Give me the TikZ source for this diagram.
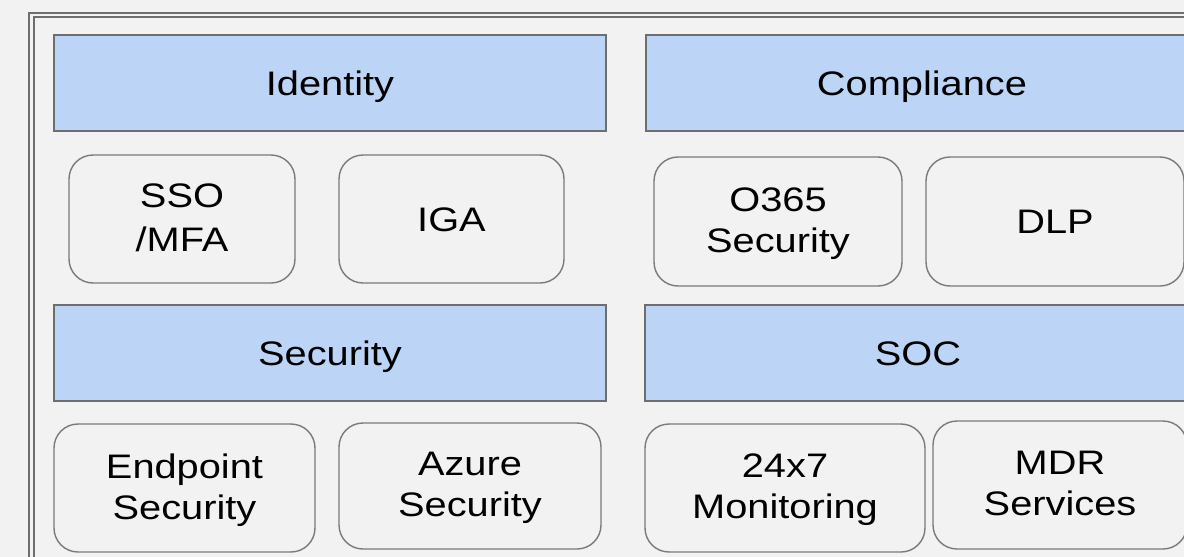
\documentclass[tikz,border=0pt]{standalone}
\usepackage{fontspec}
\setmainfont[FakeStretch=1.17]{Liberation Sans}
\definecolor{bg}{HTML}{F2F2F2}
\definecolor{hdr}{HTML}{BCD4F6}
\definecolor{edge}{HTML}{6E6E6E}
\definecolor{redge}{HTML}{7A7A7A}
\begin{document}
\begin{tikzpicture}[x=1pt,y=-1pt,
  hdrbox/.style={draw=edge,line width=1.8pt,fill=hdr,inner sep=0pt,outer sep=0pt,
    minimum width=552pt,minimum height=96pt,text height=24.4pt,text depth=0pt,
    font=\fontsize{34}{41}\selectfont},
  itembox/.style={draw=redge,line width=1.4pt,fill=bg,rounded corners=24pt,inner sep=0pt,outer sep=0pt,
    align=center,minimum height=128pt,font=\fontsize{34}{41}\selectfont},
  oneline/.style={text height=24.4pt,text depth=0pt},
  twoline/.style={text depth=3pt},
  frame/.style={draw=edge,line width=1.6pt}]
\fill[bg] (0,0) rectangle (1184,557);
\useasboundingbox (0,0) rectangle (1184,557);
\begin{scope}
\clip (0,0) rectangle (1184,557);
\coordinate (fo1) at (29,600);
\coordinate (fo2) at (1250,13);
\coordinate (fi1) at (34,600);
\coordinate (fi2) at (1250,17);
\draw[frame] (fo1) |- (fo2);
\draw[frame] (fi1) |- (fi2);
\node[hdrbox] (identity) at (330,83) {Identity};
\node[hdrbox] (compliance) at (922,83) {Compliance};
\node[hdrbox] (security) at (330,353) {Security};
\node[hdrbox,minimum width=546pt] (soc) at (918,353) {SOC};
\node[itembox,twoline,minimum width=226pt,font=\fontsize{34}{44}\selectfont] (sso) at (182,219) {SSO\\/MFA};
\node[itembox,oneline,minimum width=225pt] (iga) at (451.5,219) {IGA};
\node[itembox,twoline,minimum width=248pt,minimum height=129pt] (o365) at (778,221.5) {O365\\Security};
\node[itembox,oneline,minimum width=258pt,minimum height=129pt] (dlp) at (1055,221.5) {DLP};
\node[itembox,twoline,minimum width=261pt] (endpoint) at (184.5,488) {Endpoint\\Security};
\node[itembox,twoline,minimum width=262pt,minimum height=126pt] (azure) at (470,486) {Azure\\Security};
\node[itembox,twoline,minimum width=280pt] (monitor) at (785,488) {24x7\\Monitoring};
\node[itembox,twoline,minimum width=254pt] (mdr) at (1060,485) {MDR\\Services};
\end{scope}
\end{tikzpicture}
\end{document}
